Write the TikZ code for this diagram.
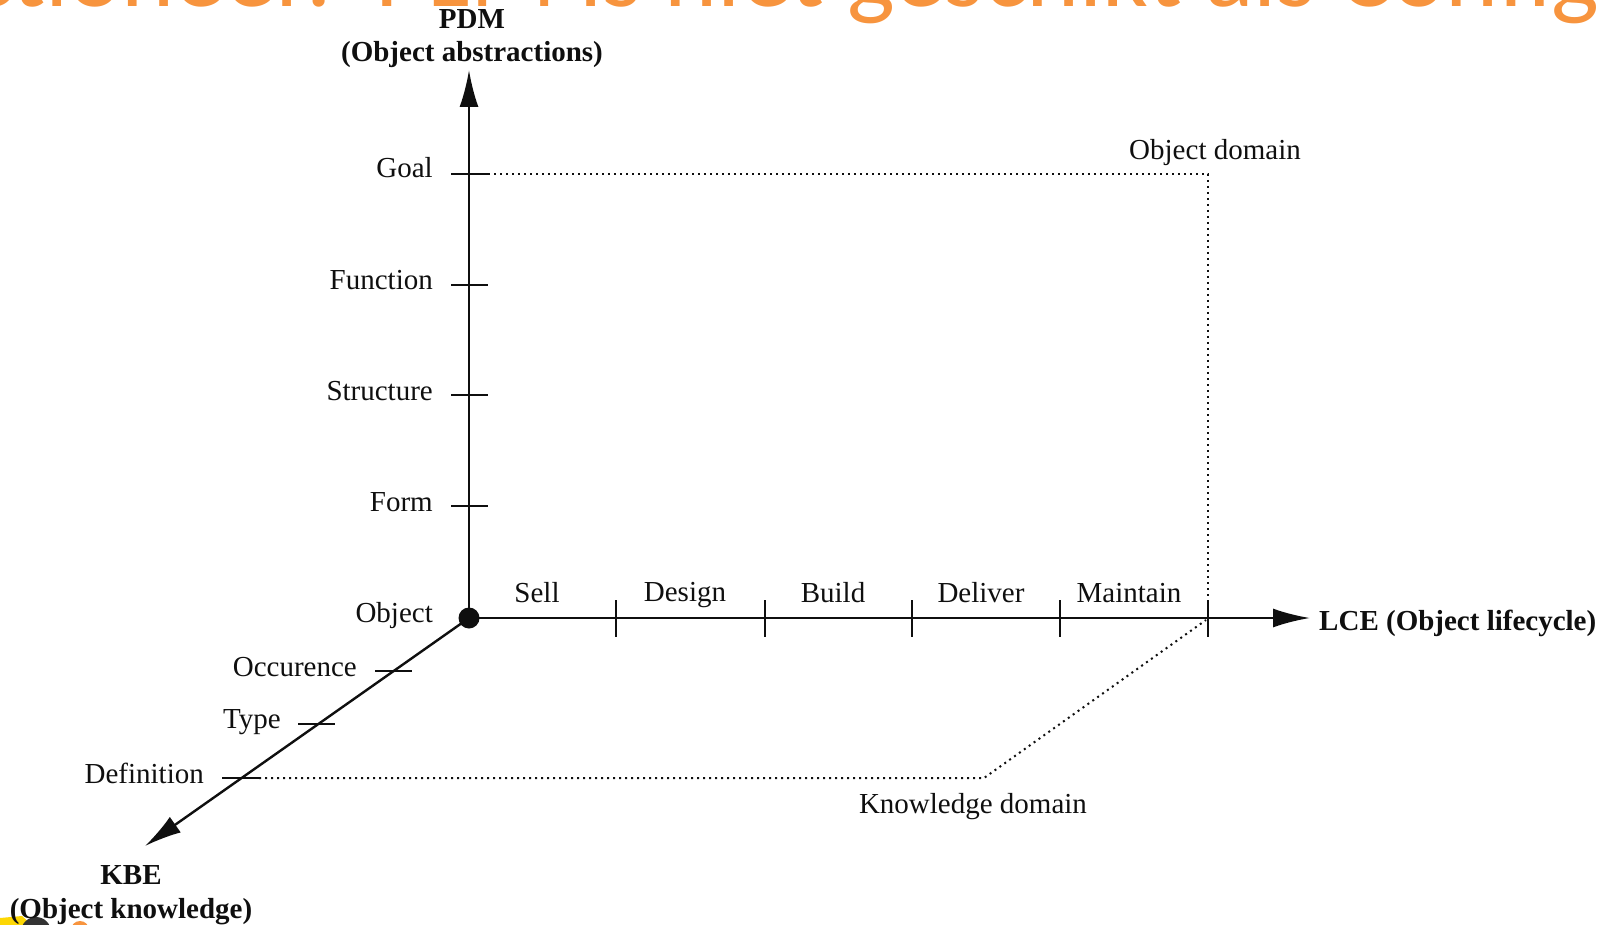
\documentclass[tikz,border=0pt]{standalone}
\usepackage{fontspec}
\setmainfont{Liberation Serif}
\newfontfamily\titlefont{Carlito}
\usetikzlibrary{arrows.meta}
\definecolor{titleorange}{RGB}{247,148,62}
\definecolor{ink}{RGB}{15,15,15}
\tikzset{
  axisline/.style={draw=ink,line width=2.4pt},
  arrowed/.style={axisline,-{Latex[length=37pt,width=19pt]}},
  tickline/.style={draw=ink,line width=2pt},
  dotline/.style={draw=ink,line width=2pt,dash pattern=on 2pt off 4pt},
  lab/.style={font=\fontsize{29}{29}\selectfont,text=ink,inner sep=0pt},
  blab/.style={lab,font=\fontsize{29}{29}\selectfont\bfseries},
}
\begin{document}
\begin{tikzpicture}[x=1pt,y=-1pt]
\useasboundingbox (0,0) rectangle (1605,925);
\begin{scope}
\clip (0,0) rectangle (1605,925);
\node[anchor=base east,inner sep=0pt,text=titleorange,font=\titlefont\fontsize{101}{101}\selectfont] (title) at (1600,7) {Functioneel? PLM is niet geschikt als Config};
\fill[yellow!75!orange] (0,925) -- (0,918) -- (22,916) -- (32,925) -- cycle;
\fill[black!80] (36,932) circle (15pt);
\fill[titleorange] (80,930) circle (9pt);
\end{scope}
\coordinate (O) at (469,618);
\coordinate (ytip) at (469,70);
\coordinate (xtip) at (1310,618);
\coordinate (ztip) at (145,846);
\draw[arrowed] (O) -- (ytip);
\draw[arrowed] (O) -- (xtip);
\draw[arrowed] (O) -- (ztip);
\fill[ink] (O) circle (10.5pt);
% y ticks
\foreach \n/\y in {goal/174,func/285,stru/395,form/506}{
  \coordinate (\n a) at (451,\y); \coordinate (\n b) at (488,\y);
  \draw[tickline] (\n a) -- (\n b);
}
% x ticks
\foreach \n/\x in {t1/616,t2/765,t3/912,t4/1060,t5/1208}{
  \coordinate (\n a) at (\x,600); \coordinate (\n b) at (\x,637);
  \draw[tickline] (\n a) -- (\n b);
}
% z ticks
\coordinate (occa) at (375,671); \coordinate (occb) at (412,671);
\coordinate (typa) at (298,724); \coordinate (typb) at (335,724);
\coordinate (defa) at (222,778); \coordinate (defb) at (259,778);
\draw[tickline] (occa) -- (occb);
\draw[tickline] (typa) -- (typb);
\draw[tickline] (defa) -- (defb);
% dotted
\coordinate (c1) at (1208,174);
\coordinate (c2) at (1208,598);
\coordinate (c3) at (984,778);
\coordinate (c4) at (1206,620);
\draw[dotline] (goalb) -- (c1) -- (c2);
\draw[dotline] (defb) -- (c3) -- (c4);
% labels
\node[blab] (pdm) at (472,19) {PDM};
\node[blab] (pdm2) at (472,55) {(Object abstractions)};
\node[blab,anchor=west] (lce) at (1319,623) {LCE (Object lifecycle)};
\node[blab] (kbe) at (131,875) {KBE};
\node[blab] (kbe2) at (131,912) {(Object knowledge)};
\foreach \n/\t/\y in {lgoal/Goal/168,lfunc/Function/280,lstru/Structure/391,lform/Form/502,lobj/Object/616}{
  \node[lab,anchor=east] (\n) at (433,\y) {\t};
}
\node[lab,anchor=east] (locc) at (357,667) {Occurence};
\node[lab,anchor=east] (ltyp) at (281,722) {Type};
\node[lab,anchor=east] (ldef) at (204,773) {Definition};
\foreach \n/\t/\x/\y in {s1/Sell/537/593,s2/Design/685/595,s3/Build/833/593,s4/Deliver/981/593,s5/Maintain/1129/593}{
  \node[lab] (\n) at (\x,\y) {\t};
}
\node[lab] (odom) at (1215,153) {Object domain};
\node[lab] (kdom) at (973,807) {Knowledge domain};
\end{tikzpicture}
\end{document}
